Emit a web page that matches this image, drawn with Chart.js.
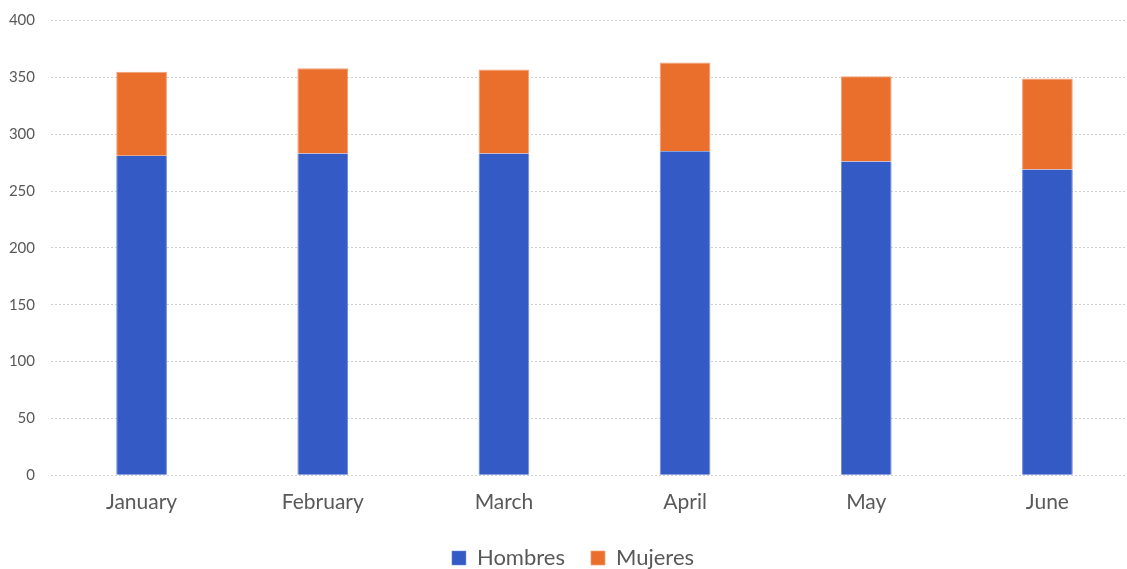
<!DOCTYPE html>
<html>
<head>
<meta charset="utf-8">
<script src="https://cdn.jsdelivr.net/npm/chart.js@4/dist/chart.umd.min.js"></script>
<style>
  html, body { margin: 0; padding: 0; background: #fff; overflow: hidden; }
  #wrap { position: relative; width: 1168px; height: 579px; }
</style>
</head>
<body>
<div id="wrap"><canvas id="chart"></canvas></div>
<script>
const meses = ["January", "February", "March", "April", "May", "June"];
const hombres = [281, 283, 283, 285, 276, 269];
const mujeres = [74, 75, 74, 78, 75, 80];

const ctx = document.getElementById("chart");

new Chart(ctx, {
  type: "bar",
  data: {
    labels: meses,
    datasets: [
      {
        label: "Hombres",
        data: hombres,
        backgroundColor: "#345bc5",
        borderColor: "#6f8ad6",
        borderWidth: { left: 1, right: 1 },
        categoryPercentage: 0.28,
        barPercentage: 1,
      },
      {
        label: "Mujeres",
        data: mujeres,
        backgroundColor: "#ea6e2c",
        borderColor: "#f0a077",
        borderWidth: { left: 1, right: 1, top: 1 },
        categoryPercentage: 0.28,
        barPercentage: 1,
      },
    ],
  },
  options: {
    responsive: true,
    maintainAspectRatio: false,
    animation: false,
    layout: {
      padding: { left: 8, right: 30, top: 0, bottom: 0 },
    },
    plugins: {
      legend: {
        position: "bottom",
        labels: {
          color: "#595959",
          font: { family: "Lato", size: 22 },
          boxWidth: 14,
          boxHeight: 14,
          padding: 26,
        },
      },
      tooltip: { enabled: false },
    },
    scales: {
      x: {
        stacked: true,
        grid: { display: false },
        border: { display: false },
        ticks: {
          color: "#595959",
          font: { family: "Lato", size: 21, lineHeight: 1.8 },
          padding: 0,
        },
      },
      y: {
        stacked: true,
        min: 0,
        max: 400,
        afterFit: (scale) => {
          scale.width = 43;
        },
        ticks: {
          stepSize: 50,
          color: "#595959",
          font: { family: "Lato", size: 15, lineHeight: 0.6 },
          padding: 16,
        },
        grid: { color: "#cfcfcf", drawTicks: false },
        border: { display: false, dash: [2, 2] },
      },
    },
  },
});
</script>
</body>
</html>
